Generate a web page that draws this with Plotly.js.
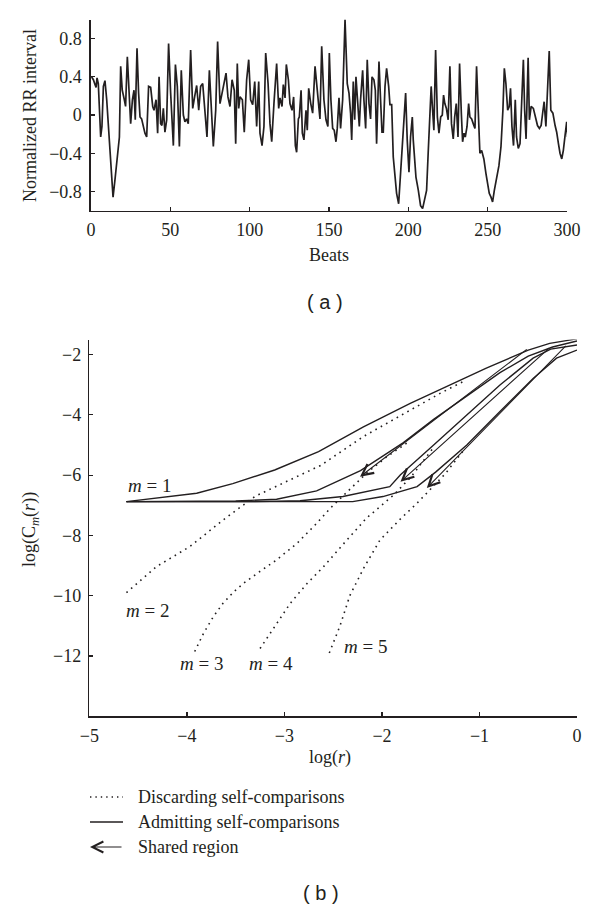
<!DOCTYPE html>
<html>
<head>
<meta charset="utf-8">
<script src="https://cdn.plot.ly/plotly-3.0.1.min.js"></script>
<style>html,body{margin:0;padding:0;background:#fff}#chart{width:600px;height:909px}</style>
</head>
<body>
<div id="chart"></div>
<script>
// ---------- Panel (a): normalized RR interval series ----------
const beats = [0.4,1.5,2.5,3.2,3.8,4.6,6.1,6.9,7.8,8.8,9.9,10.9,12.4,13.9,15.1,16.6,17.9,18.7,19.7,21.0,21.8,22.9,24.2,25.0,26.1,27.1,27.9,29.0,30.0,30.9,31.9,33.0,34.0,35.1,36.3,37.6,38.9,39.7,41.0,42.0,42.9,43.9,44.7,45.6,46.6,47.7,48.9,50.2,51.9,53.2,54.4,55.7,56.9,58.2,59.2,60.3,61.3,62.8,64.1,65.3,66.6,67.9,69.1,70.4,71.8,73.1,74.6,
76.1,77.1,78.6,79.8,81.3,83.4,85.1,86.3,87.6,88.9,90.3,91.2,92.2,93.1,93.9,95.4,96.6,98.1,99.4,100.6,101.9,103.2,104.4,105.7,106.5,107.8,109.0,110.1,111.6,112.8,113.9,115.3,117.0,118.3,119.1,120.4,121.2,122.3,123.1,124.4,125.4,126.7,127.7,128.8,129.6,130.7,131.3,132.4,133.2,134.2,135.5,136.3,137.2,138.5,139.7,141.2,
142.6,144.3,145.4,146.8,148.1,149.3,150.2,151.2,152.3,153.3,154.4,155.2,156.3,157.3,158.6,160.1,161.5,162.6,163.6,164.3,165.3,166.2,167.0,167.8,169.1,169.9,171.2,172.0,173.1,174.1,175.2,176.2,177.1,178.3,179.2,180.0,181.5,182.5,183.4,184.2,185.3,186.3,187.6,188.4,189.5,190.5,191.6,192.6,193.9,195.1,196.8,198.3,199.3,200.4,201.4,202.5,203.1,204.8,206.3,207.7,
209.0,210.2,211.5,212.5,213.6,214.4,215.3,216.1,217.2,218.3,219.3,220.4,221.4,222.2,223.0,224.0,225.1,226.2,227.2,228.3,229.2,230.2,231.3,232.3,233.4,234.2,235.1,235.9,237.0,238.0,238.8,239.9,240.9,242.0,243.0,244.3,245.1,246.2,247.6,248.9,250.0,251.0,252.1,253.1,254.2,255.6,257.1,258.4,259.6,260.5,261.5,262.6,263.6,264.4,265.3,266.3,267.4,268.2,269.3,270.4,271.4,272.5,273.3,274.2,275.5,276.3,277.4,278.8,280.1,281.4,282.6,283.7,284.8,285.6,286.7,287.7,288.8,289.8,291.1,292.5,293.5,294.6,295.6,296.7,297.7,298.8,299.8,300.4];
const rrInterval = [0.40,0.37,0.32,0.29,0.39,0.33,-0.23,-0.12,0.30,0.36,0.16,-0.12,-0.51,-0.86,-0.68,-0.44,-0.23,0.51,0.26,0.16,0.09,0.61,0.09,-0.09,0.16,0.26,-0.05,0.70,0.23,-0.02,-0.04,-0.12,-0.19,-0.23,0.30,0.29,0.09,0.05,0.16,-0.19,0.40,-0.09,-0.11,0.07,-0.18,-0.05,0.75,0.23,-0.32,0.53,0.30,-0.33,0.47,0.00,-0.07,-0.04,-0.09,0.68,0.07,0.19,0.31,0.05,0.30,0.33,0.02,-0.23,0.47,
-0.12,-0.33,0.05,0.77,0.12,0.30,0.44,0.19,0.09,0.37,0.26,-0.30,0.54,0.07,0.19,0.16,-0.18,0.37,0.58,0.16,0.11,0.35,-0.12,0.35,-0.19,-0.32,-0.12,0.65,0.33,-0.09,-0.28,0.12,0.54,0.07,0.18,0.09,0.32,0.18,0.53,0.37,0.12,0.05,0.19,-0.32,-0.39,-0.04,-0.02,0.26,-0.19,-0.26,0.05,-0.16,0.28,0.12,0.02,0.51,
0.26,-0.04,0.72,0.16,-0.05,-0.12,0.65,0.16,-0.14,-0.16,-0.28,-0.14,0.18,-0.14,0.16,1.00,0.33,0.23,0.02,-0.26,0.35,-0.05,0.40,0.23,-0.12,0.16,0.47,0.16,-0.14,0.58,0.12,-0.04,0.40,0.37,0.26,-0.30,0.56,0.16,-0.18,-0.18,0.30,0.49,0.30,0.11,0.11,-0.44,-0.65,-0.82,-0.93,-0.61,-0.19,0.23,-0.26,-0.60,-0.23,-0.02,-0.26,-0.65,-0.79,-0.95,
-0.98,-0.89,-0.79,-0.40,0.05,0.30,0.05,-0.16,0.68,-0.02,-0.19,-0.02,0.00,0.21,0.12,0.07,-0.05,0.51,-0.09,-0.25,-0.02,0.12,-0.23,0.54,0.02,-0.28,-0.19,-0.23,-0.12,0.12,-0.02,-0.04,-0.09,-0.14,0.51,-0.12,-0.40,-0.37,-0.46,-0.61,-0.75,-0.82,-0.86,-0.91,-0.79,-0.65,-0.53,-0.33,0.05,0.49,0.33,0.05,0.09,0.28,-0.12,-0.32,0.16,-0.23,-0.35,-0.30,0.05,0.58,0.05,-0.25,0.60,-0.05,0.09,0.07,-0.02,-0.11,-0.14,-0.11,0.04,0.14,-0.12,0.33,0.67,0.05,0.02,-0.11,-0.18,-0.30,-0.40,-0.46,-0.37,-0.21,-0.07,-0.23];
const beatTicks = [0,50,100,150,200,250,300];
const rrTicks = [-0.8,-0.4,0,0.4,0.8];

// ---------- Panel (b): log C_m(r) versus log r ----------
// Admitting self-comparisons (solid)
const adm1X = [-4.62,-3.9,-3.53,-3.1,-2.65,-2.19,-1.71,-1.37,-0.93,-0.5,-0.28,0];
const adm1Y = [-6.88,-6.6,-6.28,-5.83,-5.22,-4.4,-3.62,-3.12,-2.45,-1.85,-1.63,-1.48];
const adm2X = [-4.62,-3.5,-3.08,-2.67,-2.22,-1.78,-1.47,-1.13,-0.79,-0.5,-0.25,0];
const adm2Y = [-6.88,-6.86,-6.8,-6.52,-5.85,-4.92,-4.15,-3.36,-2.6,-2.05,-1.75,-1.55];
const adm3X = [-4.62,-3.3,-2.84,-2.4,-1.92,-1.81,-1.47,-1.13,-0.79,-0.45,-0.27,0];
const adm3Y = [-6.88,-6.88,-6.85,-6.71,-6.38,-5.99,-5.0,-4.0,-3.01,-2.12,-1.82,-1.68];
const adm4X = [-4.62,-2.3,-1.99,-1.64,-1.45,-1.13,-0.79,-0.45,-0.21,0];
const adm4Y = [-6.88,-6.88,-6.71,-6.38,-5.9,-5.0,-3.89,-2.79,-2.12,-1.85];
// Discarding self-comparisons (dotted)
const dis1X = [-4.62,-4.31,-3.97,-3.63,-3.3,-3.05,-2.63,-2.19,-1.71,-1.4,-1.15];
const dis1Y = [-9.9,-9.03,-8.37,-7.49,-6.7,-6.32,-5.68,-4.72,-3.84,-3.28,-2.87];
const dis2X = [-3.92,-3.83,-3.73,-3.63,-3.52,-3.42,-3.28,-3.08,-2.87,-2.67,-2.53,-2.33,-2.16,-1.95,-1.72];
const dis2Y = [-11.85,-11.25,-10.7,-10.25,-9.87,-9.59,-9.26,-8.81,-8.26,-7.6,-7.1,-6.49,-5.94,-5.39,-4.88];
const dis3X = [-3.25,-3.08,-2.94,-2.77,-2.6,-2.4,-2.16,-1.88,-1.7,-1.47];
const dis3Y = [-11.75,-10.92,-10.25,-9.6,-9.04,-8.3,-7.43,-6.66,-6.05,-5.08];
const dis4X = [-2.54,-2.43,-2.33,-2.19,-2.02,-1.81,-1.64,-1.51,-1.35,-1.15];
const dis4Y = [-11.9,-11.0,-10.0,-9.1,-8.15,-7.45,-6.93,-6.5,-5.95,-5.12];
// Shared-region arrows (tip = lower end, tail = upper end)
const arrowTipX = [-2.225,-1.81,-1.54];
const arrowTipY = [-6.05,-6.22,-6.43];
const arrowTailX = [-0.5,-0.27,-0.1];
const arrowTailY = [-1.79,-1.74,-1.66];
// Curve labels
const mLabels = ["<i>m</i> = 1","<i>m</i> = 2","<i>m</i> = 3","<i>m</i> = 4","<i>m</i> = 5"];
const mLabelX = [-4.38,-4.40,-3.85,-3.14,-2.17];
const mLabelY = [-6.35,-10.5,-12.25,-12.25,-11.7];
const logrTicks = [-5,-4,-3,-2,-1,0];
const logCTicks = [-12,-10,-8,-6,-4,-2];

const INK = '#231f20';
const SERIF = 'Liberation Serif, Times New Roman, serif';
const SANS = 'Liberation Sans, Arial, sans-serif';

const traces = [
  {x: beats, y: rrInterval, xaxis: 'x', yaxis: 'y', mode: 'lines',
   line: {color: INK, width: 1.7}, showlegend: false, hoverinfo: 'skip'}
];
const dotted = [[dis1X,dis1Y],[dis2X,dis2Y],[dis3X,dis3Y],[dis4X,dis4Y]];
dotted.forEach(d => traces.push({x: d[0], y: d[1], xaxis: 'x2', yaxis: 'y2', mode: 'lines',
  line: {color: INK, width: 1.6, dash: '1.6px,4.5px'}, showlegend: false, hoverinfo: 'skip'}));
const solid = [[adm1X,adm1Y],[adm2X,adm2Y],[adm3X,adm3Y],[adm4X,adm4Y]];
solid.forEach(d => traces.push({x: d[0], y: d[1], xaxis: 'x2', yaxis: 'y2', mode: 'lines',
  line: {color: INK, width: 1.4}, showlegend: false, hoverinfo: 'skip'}));

const axisCommon = {
  showline: true, linecolor: INK, linewidth: 1.6, mirror: false,
  ticks: 'inside', ticklen: 4, tickwidth: 1.2, tickcolor: INK,
  showgrid: false, zeroline: false,
  tickfont: {family: SERIF, size: 18, color: INK}
};

const annotations = [];
function txt(text, x, y, opts) {
  annotations.push(Object.assign({text: text, x: x, y: y, xref: 'paper', yref: 'paper',
    xanchor: 'center', yanchor: 'middle',
    showarrow: false, font: {family: SERIF, size: 18, color: INK}}, opts || {}));
}
txt('Normalized RR interval', 30/600, 1-116/909, {textangle: -90});
txt('Beats', 329/600, 1-255/909);
txt('( a )', 325/600, 1-302/909, {font: {family: SANS, size: 20, color: INK}});
txt('log(C<sub><i>m</i></sub>(<i>r</i>))', 30/600, 1-530/909, {textangle: -90});
txt('log(<i>r</i>)', 330/600, 1-757/909);
txt('Discarding self-comparisons', 136/600, 1-797/909, {xanchor: 'left'});
txt('Admitting self-comparisons', 136/600, 1-822/909, {xanchor: 'left'});
txt('Shared region', 136/600, 1-847/909, {xanchor: 'left'});
txt('( b )', 321/600, 1-893/909, {font: {family: SANS, size: 20, color: INK}});

// legend arrow sample
annotations.push({x: 90/600, y: 1-847/909, xref: 'paper', yref: 'paper', ax: 33, ay: 0,
  axref: 'pixel', ayref: 'pixel', text: '', showarrow: true, arrowhead: 5, arrowsize: 1.8,
  arrowwidth: 1.2, arrowcolor: INK, standoff: 0});

// shared region arrows in data coordinates
arrowTipX.forEach((tx, i) => annotations.push({x: tx, y: arrowTipY[i], xref: 'x2', yref: 'y2',
  ax: arrowTailX[i], ay: arrowTailY[i], axref: 'x2', ayref: 'y2', text: '', showarrow: true,
  arrowhead: 5, arrowsize: 2.0, arrowwidth: 1.1, arrowcolor: INK, standoff: 0}));

// m labels
mLabels.forEach((t, i) => annotations.push({text: t, x: mLabelX[i], y: mLabelY[i], xref: 'x2', yref: 'y2',
  xanchor: 'center', yanchor: 'middle',
  showarrow: false, font: {family: SERIF, size: 19, color: INK}}));

const layout = {
  width: 600, height: 909,
  margin: {l: 0, r: 0, t: 0, b: 0},
  paper_bgcolor: '#fff', plot_bgcolor: '#fff',
  showlegend: false,
  xaxis: Object.assign({}, axisCommon, {domain: [91/600, 567/600], range: [0, 300],
    tickvals: beatTicks, anchor: 'y', ticklabelstandoff: 2}),
  yaxis: Object.assign({}, axisCommon, {domain: [1-210.5/909, 1-19.6/909], range: [-1, 1],
    tickvals: rrTicks, anchor: 'x', ticklabelstandoff: 4}),
  xaxis2: Object.assign({}, axisCommon, {domain: [89.4/600, 577/600], range: [-5, 0],
    tickvals: logrTicks, anchor: 'y2', ticklabelstandoff: 2}),
  yaxis2: Object.assign({}, axisCommon, {domain: [1-716.3/909, 1-339.5/909], range: [-14, -1.5],
    tickvals: logCTicks, anchor: 'x2', ticklabelstandoff: 3}),
  shapes: [
    {type: 'line', xref: 'paper', yref: 'paper', x0: 90/600, x1: 123/600, y0: 1-797/909, y1: 1-797/909,
     line: {color: INK, width: 1.4, dash: '1.4px,4px'}},
    {type: 'line', xref: 'paper', yref: 'paper', x0: 90/600, x1: 123/600, y0: 1-822/909, y1: 1-822/909,
     line: {color: INK, width: 1.3}}
  ],
  annotations: annotations
};

Plotly.newPlot('chart', traces, layout, {displayModeBar: false, staticPlot: true});
</script>
</body>
</html>
